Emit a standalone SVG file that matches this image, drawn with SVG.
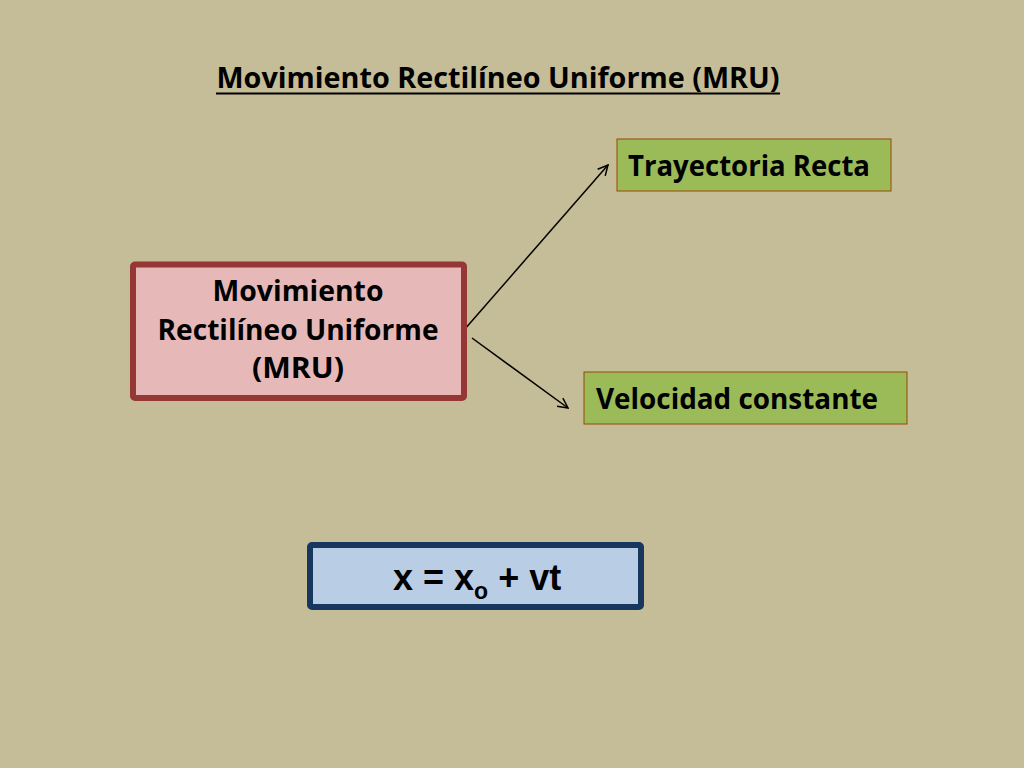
<svg xmlns="http://www.w3.org/2000/svg" width="1024" height="768" viewBox="0 0 1024 768">
<defs>
<style>
.t{font-family:"Open Sans","Liberation Sans",sans-serif;font-weight:bold;fill:#000}
.c{stroke:#000;stroke-width:1.5;fill:none}
</style>
<marker id="ah" viewBox="0 0 12 12" refX="11" refY="6" markerWidth="12" markerHeight="12" markerUnits="userSpaceOnUse" orient="auto">
<path d="M1,1 L11,6 L1,11" fill="none" stroke="#000" stroke-width="1.5"/>
</marker>
</defs>
<rect width="1024" height="768" fill="#c5bd97"/>
<g id="title">
<text class="t" x="498" y="88" font-size="28" text-anchor="middle" textLength="563" lengthAdjust="spacingAndGlyphs">Movimiento Rectilíneo Uniforme (MRU)</text>
<line x1="216" y1="93.5" x2="780" y2="93.5" stroke="#000" stroke-width="2"/>
</g>
<g id="connectors">
<line class="c" x1="464" y1="330" x2="608" y2="165" marker-end="url(#ah)"/>
<line class="c" x1="472" y1="338" x2="568" y2="408" marker-end="url(#ah)"/>
</g>
<g id="mru">
<rect x="133" y="264.5" width="331" height="133.5" rx="2" fill="#e6b9b8" stroke="#953735" stroke-width="6"/>
<text class="t" x="298" y="301" font-size="29" text-anchor="middle" textLength="171" lengthAdjust="spacingAndGlyphs">Movimiento</text>
<text class="t" x="298" y="340" font-size="29" text-anchor="middle" textLength="281" lengthAdjust="spacingAndGlyphs">Rectilíneo Uniforme</text>
<text class="t" x="298" y="378" font-size="29" text-anchor="middle" textLength="92" lengthAdjust="spacingAndGlyphs">(MRU)</text>
</g>
<g id="trayectoria">
<rect x="617" y="139" width="274" height="52" fill="#9bbb59" stroke="#984807" stroke-width="1"/>
<text class="t" x="628" y="176" font-size="28" textLength="242" lengthAdjust="spacingAndGlyphs">Trayectoria Recta</text>
</g>
<g id="velocidad">
<rect x="584" y="372" width="323" height="52" fill="#9bbb59" stroke="#984807" stroke-width="1"/>
<text class="t" x="596" y="409" font-size="28" textLength="282" lengthAdjust="spacingAndGlyphs">Velocidad constante</text>
</g>
<g id="formula">
<rect x="310" y="545" width="331" height="62" rx="2" fill="#b9cde5" stroke="#17375e" stroke-width="6"/>
<text x="393" y="590" font-family="'Liberation Sans',Arial,sans-serif" font-weight="bold" font-size="36" fill="#000">x = x<tspan font-size="23" dy="9">o</tspan><tspan dy="-9"> + vt</tspan></text>
</g>
</svg>
